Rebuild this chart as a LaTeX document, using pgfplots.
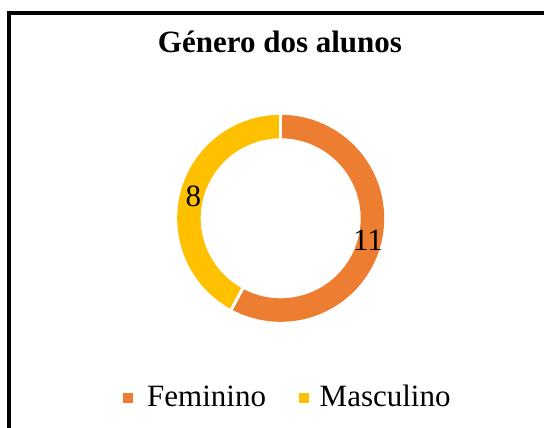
\documentclass[border=0pt]{standalone}
\usepackage{fontspec}
\setmainfont{Liberation Serif}
\usepackage{pgfplots}
\usepackage{pgfplotstable}
\pgfplotsset{compat=1.18}
\definecolor{fem}{HTML}{ED7D31}
\definecolor{mas}{HTML}{FFC000}

\pgfplotstableread{
label value
Feminino 11
Masculino 8
}\gendertable

\pgfplotstablegetelem{0}{value}\of\gendertable \let\vF\pgfplotsretval
\pgfplotstablegetelem{1}{value}\of\gendertable \let\vM\pgfplotsretval
\pgfmathsetmacro\tot{\vF+\vM}
\pgfmathsetmacro\aA{90}
\pgfmathsetmacro\aB{90-360*\vF/\tot}
\pgfmathsetmacro\aC{\aB-360*\vM/\tot}
\pgfmathsetmacro\mF{(\aA+\aB)/2}
\pgfmathsetmacro\mM{(\aB+\aC)/2}
\def\cx{280.7}
\def\cy{209.7}
\def\rmid{91.75}
\newcommand\txt{\fontsize{31bp}{37bp}\selectfont}

\begin{document}
\begin{tikzpicture}
\useasboundingbox (0,0) rectangle (544bp,428bp);
\begin{axis}[
  at={(0,0)}, anchor=south west,
  hide axis, scale only axis,
  width=544bp, height=428bp,
  xmin=0, xmax=544, ymin=0, ymax=428,
  enlargelimits=false, clip=false,
]
% border
\draw[black, line width=4bp] (axis cs:9,0) -- (axis cs:9,415.3) -- (axis cs:544,415.3);
% ring
\addplot[fem, line width=23.5bp, domain=\aB:\aA, samples=150, variable=\t] ({\cx+\rmid*cos(\t)},{\cy+\rmid*sin(\t)});
\addplot[mas, line width=23.5bp, domain=\aC:\aB, samples=150, variable=\t] ({\cx+\rmid*cos(\t)},{\cy+\rmid*sin(\t)});
% separators
\draw[white, line width=3bp] (axis cs:{\cx+76*cos(\aA)},{\cy+76*sin(\aA)}) -- (axis cs:{\cx+108*cos(\aA)},{\cy+108*sin(\aA)});
\draw[white, line width=3bp] (axis cs:{\cx+76*cos(\aB)},{\cy+76*sin(\aB)}) -- (axis cs:{\cx+108*cos(\aB)},{\cy+108*sin(\aB)});
% data labels
\node[font=\txt, inner sep=0pt] at (axis cs:{\cx+90*cos(\mF)},{\cy+90*sin(\mF)}) {\vF};
\node[font=\txt, inner sep=0pt] at (axis cs:{\cx+90*cos(\mM)},{\cy+90*sin(\mM)}) {\vM};
% title
\node[font=\bfseries\txt, anchor=base, inner sep=0pt] at (axis cs:280,375) {Género dos alunos};
% legend
\fill[fem] (axis cs:122.5,24.5) rectangle (axis cs:133,35);
\node[font=\txt, anchor=base west, inner sep=0pt] at (axis cs:147,21.3) {Feminino};
\fill[mas] (axis cs:298.5,24.5) rectangle (axis cs:309,35);
\node[font=\txt, anchor=base west, inner sep=0pt] at (axis cs:319.5,21.3) {Masculino};
\end{axis}
\end{tikzpicture}
\end{document}
